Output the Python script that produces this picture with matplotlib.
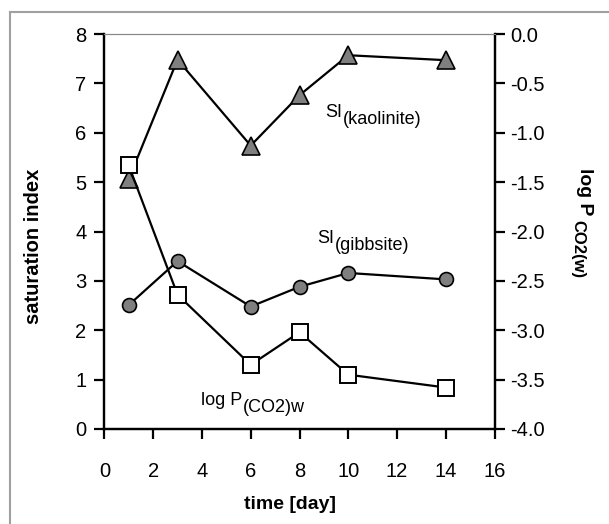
import numpy as np
import matplotlib
matplotlib.use('Agg')
import matplotlib.pyplot as plt
from matplotlib.lines import Line2D

#fonts
plt.rcParams['font.family'] = ['Liberation Sans', 'DejaVu Sans']

#data
days = [1, 3, 6, 8, 10, 14]
si_kaolinite = [5.06, 7.48, 5.74, 6.76, 7.57, 7.47]
si_gibbsite = [2.51, 3.40, 2.48, 2.88, 3.16, 3.03]
log_pco2 = [-1.33, -2.64, -3.35, -3.02, -3.45, -3.58]

fig = plt.figure(figsize=(6.09, 5.24), dpi=100)
ax = fig.add_axes([0.1713, 0.1813, 0.641, 0.7538])
ax2 = ax.twinx()

gray = '#7f7f7f'
ax.plot(days, si_kaolinite, color='black', lw=1.6, marker='^', ms=13,
        mfc=gray, mec='black', mew=1.2, zorder=3)
ax.plot(days, si_gibbsite, color='black', lw=1.6, marker='o', ms=10,
        mfc=gray, mec='black', mew=1.2, zorder=3)
ax2.plot(days, log_pco2, color='black', lw=1.6, marker='s', ms=11,
         mfc='white', mec='black', mew=1.4, zorder=3)

ax.set_xlim(0, 16)
ax.set_ylim(0, 8)
ax2.set_ylim(-4, 0)
ax.set_xticks(np.arange(0, 17, 2))
ax.set_yticks(np.arange(0, 9, 1))
ax2.set_yticks(np.arange(-4, 0.1, 0.5))
ax2.set_yticklabels(['%.1f' % v for v in np.arange(-4, 0.1, 0.5)])

for a in (ax, ax2):
    a.spines['top'].set_color('#888888')
    a.spines['top'].set_linewidth(0.8)
    for s in ('left', 'right', 'bottom'):
        a.spines[s].set_linewidth(1.6)
ax.tick_params(axis='both', direction='out', length=7, width=1.6, labelsize=14.5, pad=6)
ax.tick_params(axis='x', pad=17)
ax2.tick_params(axis='y', direction='out', length=7, width=1.6, labelsize=14.5, pad=4)

ax.set_xlabel('time [day]', fontsize=14, fontweight='bold', va='top')
ax.xaxis.set_label_coords(0.476, -0.170)
ax.set_ylabel('saturation index', fontsize=14.5, fontweight='bold')
ax.yaxis.set_label_coords(-0.157, 0.463)

#right axis label, written as main text + subscript
fig.text(585/609, 1-168/524, 'log P', rotation=270, ha='center', va='top',
         fontsize=14, fontweight='bold')
fig.text(578/609, 1-220/524, 'CO2(w)', rotation=270, ha='center', va='top',
         fontsize=12, fontweight='bold')

#series labels
def sub_label(x, y, main, sub, size=13):
    t = ax.text(x, y, main, fontsize=size, va='baseline')
    ax.annotate(sub, xy=(1, 0), xycoords=t, xytext=(0.5, -5),
                textcoords='offset points', va='bottom', fontsize=size)

sub_label(9.05, 6.31, 'SI', '(kaolinite)')
sub_label(8.73, 3.76, 'SI', '(gibbsite)')
sub_label(3.95, 0.49, 'log P', '(CO2)w')

#frame round the picture
fig.add_artist(Line2D([10/609, 1], [1-12/524, 1-12/524], color='#a0a0a0', lw=1.5))
fig.add_artist(Line2D([10/609, 10/609], [0, 1-12/524], color='#a0a0a0', lw=1.5))

fig.savefig('out.png', dpi=100)
